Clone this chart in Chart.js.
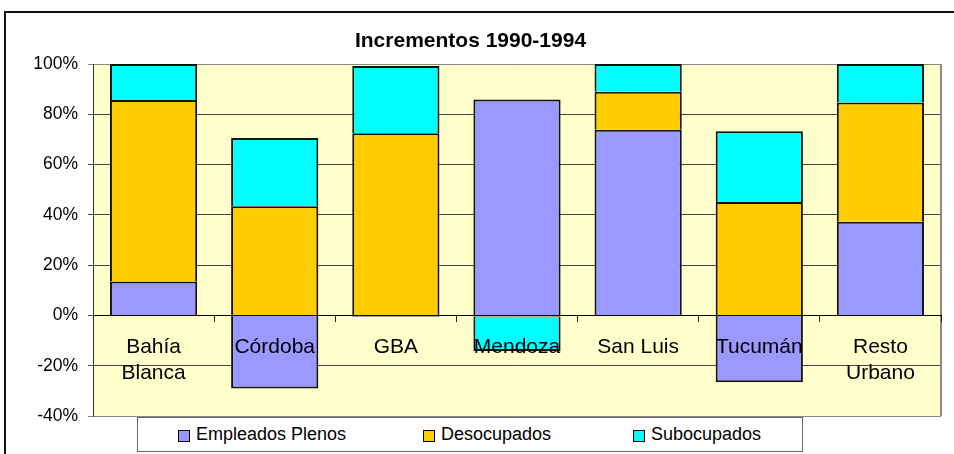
<!DOCTYPE html>
<html>
<head>
<meta charset="utf-8">
<script src="https://cdn.jsdelivr.net/npm/chart.js@4/dist/chart.umd.min.js"></script>
<style>
  body { margin: 0; background: #fff; font-family: Arial, "Liberation Sans", sans-serif; }
  #wrap { position: relative; width: 954px; height: 454px; overflow: hidden; }
  #frame { position: absolute; left: 4px; top: 11px; width: 980px; height: 480px;
           border-left: 2px solid #111; border-top: 2px solid #111; pointer-events: none; }
  #leyenda { position: absolute; left: 137px; top: 417px; width: 664px; height: 33px;
             border: 1px solid #666; background: #fff; }
  .item { position: absolute; top: 0; height: 33px; font-size: 18px; line-height: 33px; color: #000; white-space: nowrap; }
  .caja { display: inline-block; width: 10px; height: 10px; border: 1px solid #000;
          vertical-align: middle; margin-right: 6px; position: relative; top: 1px; }
</style>
</head>
<body>
<div id="wrap">
  <canvas id="grafico" width="954" height="454"></canvas>
  <div id="frame"></div>
  <div id="leyenda"></div>
</div>
<script>
// Incrementos 1990-1994 por aglomerado (%)
var categorias = [["Bahía", "Blanca"], "Córdoba", "GBA", "Mendoza", "San Luis", "Tucumán", ["Resto", "Urbano"]];
var empleadosPlenos = [13.5, -29.1, -0.5, 85.9, 73.8, -26.6, 37.3];
var desocupados = [72.2, 43.4, 72.5, -0.5, 15.2, 45.1, 47.4];
var subocupados = [14.3, 27.2, 26.7, -13.6, 11.0, 28.2, 15.3];
var series = ["Empleados Plenos", "Desocupados", "Subocupados"];
var colores = ["#9999FF", "#FFCC00", "#00FFFF"];
var yTicks = [-40, -20, 0, 20, 40, 60, 80, 100];

var fondoArea = {
  id: "fondoArea",
  beforeDraw: function(chart) {
    var a = chart.chartArea, ctx = chart.ctx;
    ctx.save();
    ctx.fillStyle = "#FFFFCC";
    ctx.fillRect(a.left, a.top, a.right - a.left, a.bottom - a.top);
    ctx.restore();
  },
  afterDatasetsDraw: function(chart) {
    var a = chart.chartArea, ctx = chart.ctx;
    ctx.save();
    ctx.strokeStyle = "#888";
    ctx.lineWidth = 2;
    ctx.beginPath();
    ctx.moveTo(a.right, a.top);
    ctx.lineTo(a.right, a.bottom);
    ctx.stroke();
    ctx.restore();
  }
};

var datos = [empleadosPlenos, desocupados, subocupados];
var datasets = [];
for (let i = 0; i < series.length; i++) {
  datasets.push({
    label: series[i],
    data: datos[i],
    backgroundColor: colores[i],
    borderColor: "#111",
    borderWidth: 2,
    categoryPercentage: 1,
    barPercentage: 0.72
  });
}

var chart = new Chart("grafico", {
  type: "bar",
  data: { labels: categorias, datasets: datasets },
  plugins: [fondoArea],
  options: {
    responsive: false,
    animation: false,
    layout: { padding: { left: 0, right: 13, top: 0, bottom: 38 } },
    plugins: {
      legend: { display: false },
      tooltip: { enabled: false },
      title: {
        display: true,
        text: "Incrementos 1990-1994",
        color: "#000",
        font: { family: "Arial", size: 21, weight: "bold" },
        padding: { top: 29, bottom: 9.8 }
      }
    },
    scales: {
      x: {
        stacked: true,
        position: { y: 0 },
        grid: { offset: true, drawOnChartArea: false, drawTicks: true, tickLength: 6, color: "#222", z: 1 },
        border: { display: true, color: "#000", width: 1, z: 1 },
        ticks: {
          z: 1,
          color: "#000",
          padding: 13,
          maxRotation: 0,
          autoSkip: false,
          font: { family: "Arial", size: 21, lineHeight: 26 / 21 }
        }
      },
      y: {
        stacked: true,
        min: -40,
        max: 100,
        afterFit: function(s) { s.width = 93; },
        afterBuildTicks: function(s) { s.ticks = yTicks.map(function(v) { return { value: v }; }); },
        grid: {
          tickLength: 5,
          lineWidth: 1,
          color: function(c) {
            var v = c.tick && c.tick.value;
            return (v === 100 || v === -40) ? "#888" : "#444";
          }
        },
        border: { display: true, color: "#333", width: 1 },
        ticks: {
          color: "#000",
          padding: 10,
          font: { family: "Arial", size: 17.5 },
          callback: function(v) { return v + "%"; }
        }
      }
    }
  }
});

// leyenda en HTML, armada a partir de las series
var posLeyenda = [40, 285, 495];
var leyenda = document.getElementById("leyenda");
for (let i = 0; i < series.length; i++) {
  var it = document.createElement("div");
  it.className = "item";
  it.style.left = posLeyenda[i] + "px";
  it.innerHTML = '<span class="caja" style="background:' + colores[i] + '"></span>' + series[i];
  leyenda.appendChild(it);
}
</script>
</body>
</html>
